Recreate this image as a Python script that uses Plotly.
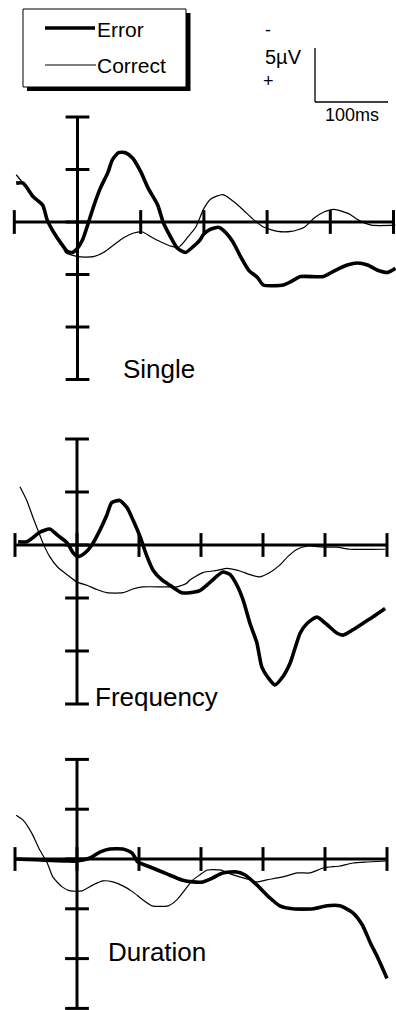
import plotly.graph_objects as go

W, H = 396, 1010

# ---------------- data (time in ms, amplitude in µV; negative plotted up) ----------------
x_ticks = [-100, 0, 100, 200, 300, 400, 500]
y_ticks = [-10, -5, 0, 5, 10, 15]

single_err_t = [-97, -86, -70, -55, -48, -38, -24, -16, -8, 0, 8, 16, 25, 36, 48, 55, 65, 76, 87, 100,
                112, 127, 136, 148, 158, 171, 182, 194, 199, 210, 223, 231, 246, 258, 271, 285, 294,
                326, 337, 353, 389, 405, 427, 443, 459, 475, 491, 503]
single_err_v = [-3.7, -3.7, -2.4, -1.6, -0.2, 0.95, 2.2, 2.8, 2.9, 2.5, 1.7, 0.3, -1.4, -3.2, -4.7, -5.9,
                -6.6, -6.6, -6.1, -4.8, -3.2, -1.6, 0.1, 1.5, 2.5, 2.9, 2.4, 1.7, 1.2, 0.7, 0.5, 0.8,
                1.9, 3.3, 4.6, 5.3, 6.0, 6.0, 5.7, 5.2, 5.2, 4.7, 4.1, 3.9, 4.1, 4.6, 4.8, 4.4]
single_cor_t = [-97, -86, -70, -55, -48, -38, -24, -19, 0, 25, 41, 57, 73, 89, 103, 116, 132, 148, 160,
                175, 187, 200, 211, 230, 248, 263, 279, 295, 317, 338, 359, 375, 390, 406, 429, 444,
                465, 503]
single_cor_v = [-4.5, -3.7, -2.4, -1.6, -0.2, 0.95, 2.2, 2.9, 3.3, 3.3, 2.9, 2.2, 1.5, 1.05, 0.95, 1.4,
                1.9, 2.3, 2.4, 1.4, 0.5, -1.3, -2.2, -2.6, -1.9, -1.1, -0.2, 0.5, 0.9, 0.9, 0.5, -0.4,
                -0.95, -1.2, -0.8, -0.2, 0.3, 0.3]

freq_err_t = [-95, -81, -71, -60, -44, -31, -16, -6, 2, 13, 24, 37, 48, 56, 69, 81, 90, 102, 113, 123,
              137, 150, 169, 182, 198, 215, 235, 247, 258, 268, 279, 290, 298, 308, 319, 331, 344,
              360, 371, 387, 403, 419, 429, 445, 461, 477, 497]
freq_err_v = [-0.3, -0.3, -0.7, -1.2, -1.5, -0.9, -0.2, 0.75, 1.1, 0.75, 0.0, -1.4, -2.8, -4.0, -4.2,
              -3.5, -2.4, -0.75, 1.1, 2.4, 3.3, 3.8, 4.5, 4.5, 4.3, 3.5, 2.55, 2.8, 3.8, 5.2, 7.4, 9.2,
              11.5, 12.5, 13.2, 12.5, 11.1, 8.3, 7.4, 6.8, 7.5, 8.3, 8.5, 8.0, 7.4, 6.8, 6.0]
freq_cor_t = [-92, -81, -71, -63, -55, -44, -31, -16, 0, 16, 32, 48, 74, 90, 106, 139, 161, 177, 182,
              203, 226, 242, 263, 279, 295, 311, 327, 340, 355, 371, 397, 419, 440, 497]
freq_cor_v = [-5.5, -4.2, -2.6, -1.4, -0.2, 1.1, 2.1, 2.8, 3.5, 3.8, 4.2, 4.5, 4.5, 4.15, 3.95, 3.95,
              3.95, 3.6, 3.3, 2.6, 2.4, 2.2, 2.45, 2.8, 3.0, 2.6, 1.9, 1.1, 0.4, 0.1, 0.2, 0.2, 0.4, 0.4]

dur_err_t = [-98, -16, 0, 21, 37, 53, 74, 89, 98, 118, 145, 169, 187, 203, 219, 235, 258, 271, 290,
             311, 327, 348, 381, 403, 424, 445, 460, 473, 485, 500]
dur_err_v = [0.0, 0.2, 0.2, -0.1, -0.7, -1.0, -1.0, -0.6, 0.3, 0.8, 1.5, 2.1, 2.3, 2.3, 1.9, 1.4, 1.3,
             1.6, 2.6, 3.9, 4.7, 5.0, 5.0, 4.7, 4.7, 5.4, 6.6, 8.4, 9.9, 12.0]
dur_cor_t = [-98, -87, -73, -60, -48, -39, -24, -11, 8, 26, 42, 58, 74, 90, 106, 121, 147, 161, 174,
             187, 198, 210, 231, 252, 274, 290, 306, 332, 355, 376, 397, 424, 445, 468, 500]
dur_cor_v = [-4.4, -3.9, -2.6, -0.9, 0.4, 1.8, 2.8, 3.2, 3.2, 2.6, 2.2, 2.3, 2.7, 3.3, 4.1, 4.7, 4.7,
             4.1, 3.1, 2.1, 1.6, 1.1, 1.1, 1.6, 2.0, 2.3, 2.1, 1.8, 1.4, 1.4, 0.9, 0.7, 0.4, 0.3, 0.2]

panel_names = ["Single", "Frequency", "Duration"]
series_names = ["Error", "Correct"]

# ---------------- layout geometry (pixels) ----------------
panels = [
    dict(err=(single_err_t, single_err_v), cor=(single_cor_t, single_cor_v),
         x0=77.5, xs=63.2, y0=222, ys=52.5, top=100, bot=400, label=(121, 369)),
    dict(err=(freq_err_t, freq_err_v), cor=(freq_cor_t, freq_cor_v),
         x0=77, xs=62, y0=545, ys=53, top=420, bot=720, label=(93, 697)),
    dict(err=(dur_err_t, dur_err_v), cor=(dur_cor_t, dur_cor_v),
         x0=77, xs=62, y0=859, ys=49.8, top=730, bot=1010, label=(106, 952)),
]

FONT = "Liberation Sans, Arial, Helvetica, sans-serif"


def px(x):
    return x / W


def py(y):
    return 1 - y / H


fig = go.Figure()
layout = dict(width=W, height=H, margin=dict(l=0, r=0, t=0, b=0),
              paper_bgcolor="white", plot_bgcolor="rgba(0,0,0,0)", showlegend=False,
              hovermode=False)

annotations = []
shapes = []

for i, p in enumerate(panels):
    sfx = "" if i == 0 else str(i + 1)
    xa, ya = "x" + sfx, "y" + sfx
    xr = [(0 - p["x0"]) / p["xs"] * 100, (W - p["x0"]) / p["xs"] * 100]
    yr = [(p["bot"] - p["y0"]) / p["ys"] * 5, (p["top"] - p["y0"]) / p["ys"] * 5]
    layout["xaxis" + sfx] = dict(domain=[0, 1], range=xr, visible=False, anchor=ya, fixedrange=True)
    layout["yaxis" + sfx] = dict(domain=[py(p["bot"]), py(p["top"])], range=yr, visible=False,
                                 anchor=xa, fixedrange=True)
    # axes
    fig.add_trace(go.Scatter(x=[x_ticks[0], x_ticks[-1]], y=[0, 0], mode="lines",
                             line=dict(color="black", width=3), xaxis=xa, yaxis=ya))
    fig.add_trace(go.Scatter(x=[0, 0], y=[y_ticks[0], y_ticks[-1]], mode="lines",
                             line=dict(color="black", width=3), xaxis=xa, yaxis=ya))
    fig.add_trace(go.Scatter(x=x_ticks, y=[0] * len(x_ticks), mode="markers", cliponaxis=False,
                             marker=dict(symbol="line-ns", size=17, color="black",
                                         line=dict(color="black", width=3)),
                             xaxis=xa, yaxis=ya))
    fig.add_trace(go.Scatter(x=[0] * len(y_ticks), y=y_ticks, mode="markers", cliponaxis=False,
                             marker=dict(symbol="line-ew", size=17, color="black",
                                         line=dict(color="black", width=3)),
                             xaxis=xa, yaxis=ya))
    # series
    fig.add_trace(go.Scatter(x=p["cor"][0], y=p["cor"][1], mode="lines", name=series_names[1],
                             line=dict(color="black", width=1.2, shape="spline", smoothing=0.6),
                             xaxis=xa, yaxis=ya))
    fig.add_trace(go.Scatter(x=p["err"][0], y=p["err"][1], mode="lines", name=series_names[0],
                             line=dict(color="black", width=3.6, shape="spline", smoothing=0.6),
                             xaxis=xa, yaxis=ya))
    lx, ly = p["label"]
    annotations.append(dict(text=panel_names[i], x=px(lx), y=py(ly), xref="paper", yref="paper",
                            xanchor="left", yanchor="middle", showarrow=False,
                            font=dict(family=FONT, size=26, color="black")))

# legend box with drop shadow
shapes.append(dict(type="rect", xref="paper", yref="paper", x0=px(27), x1=px(190.5), y0=py(91),
                   y1=py(13), fillcolor="black", line=dict(width=0)))
shapes.append(dict(type="rect", xref="paper", yref="paper", x0=px(23), x1=px(186), y0=py(87),
                   y1=py(9), fillcolor="white", line=dict(color="black", width=1)))
shapes.append(dict(type="line", xref="paper", yref="paper", x0=px(45), x1=px(95), y0=py(28),
                   y1=py(28), line=dict(color="black", width=3.6)))
shapes.append(dict(type="line", xref="paper", yref="paper", x0=px(45), x1=px(96), y0=py(65),
                   y1=py(65), line=dict(color="black", width=1.2)))
annotations.append(dict(text=series_names[0], x=px(95), y=py(29), xref="paper", yref="paper",
                        xanchor="left", yanchor="middle", showarrow=False,
                        font=dict(family=FONT, size=21, color="black")))
annotations.append(dict(text=series_names[1], x=px(95), y=py(65), xref="paper", yref="paper",
                        xanchor="left", yanchor="middle", showarrow=False,
                        font=dict(family=FONT, size=21, color="black")))

# scale bar
shapes.append(dict(type="line", xref="paper", yref="paper", x0=px(315), x1=px(315), y0=py(48),
                   y1=py(102), line=dict(color="black", width=1.3)))
shapes.append(dict(type="line", xref="paper", yref="paper", x0=px(315), x1=px(388), y0=py(102),
                   y1=py(102), line=dict(color="black", width=1.3)))
for txt, x, y, s in [("-", 263, 30, 18), ("5\u00b5V", 263, 57, 20), ("+", 261, 81, 18),
                     ("100ms", 323, 115, 18)]:
    annotations.append(dict(text=txt, x=px(x), y=py(y), xref="paper", yref="paper",
                            xanchor="left", yanchor="middle", showarrow=False,
                            font=dict(family=FONT, size=s, color="black")))

layout["annotations"] = annotations
layout["shapes"] = shapes
fig.update_layout(**layout)
fig.write_html("out.html")
